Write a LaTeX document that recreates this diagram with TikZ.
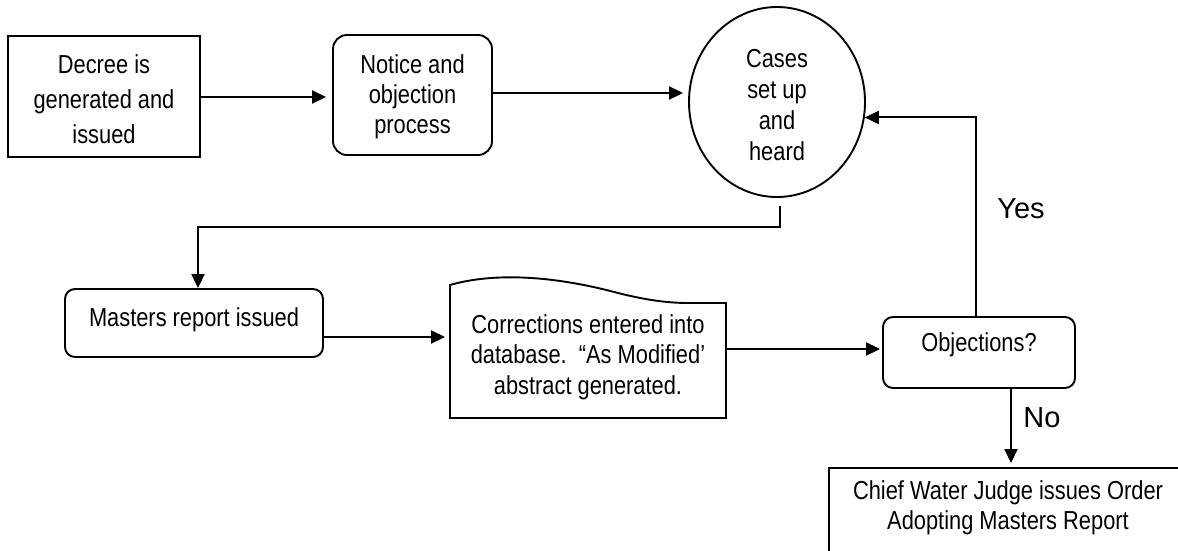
\documentclass[tikz,border=0pt]{standalone}
\usepackage{fontspec}
\setmainfont{Liberation Sans}[FakeStretch=0.84]
\newfontfamily\widefont{Liberation Sans}
\usetikzlibrary{shapes.geometric,arrows.meta,calc}
\begin{document}
\begin{tikzpicture}[x=1pt,y=-1pt,
  txt/.style={font=\fontsize{26}{31}\selectfont, align=center, inner sep=0pt},
  boxsq/.style={txt, draw, line width=1.9pt, rectangle},
  boxrd/.style={txt, draw, line width=1.9pt, rectangle, rounded corners=14pt},
  arr/.style={line width=2pt, -{Triangle[length=14pt,width=13pt]}},
  lbl/.style={font=\widefont\fontsize{29}{32}\selectfont, inner sep=0pt}]
\clip (0,0) rectangle (1178,550);
\fill[white] (0,0) rectangle (1178,550);

\node[boxsq, minimum width=192pt, minimum height=121pt] (decree) at (104,96.5) {};
\node[txt, font=\fontsize{26}{35}\selectfont] (decreetext) at (104,99)
  {Decree is\\generated and\\issued};
\node[boxrd, minimum width=159pt, minimum height=120pt] (notice) at (412.5,95) {};
\node[txt, font=\fontsize{26}{30}\selectfont] (noticetext) at (412.5,97)
  {Notice and\\objection\\process};
\node[draw, line width=1.9pt, ellipse, minimum width=176pt, minimum height=190pt,
  inner sep=0pt] (cases) at (777,102) {};
\node[txt] (casestext) at (777,105) {Cases\\set up\\and\\heard};
\node[boxrd, rounded corners=10pt, minimum width=258pt, minimum height=68pt] (masters) at (194,323) {};
\node[txt] (masterstext) at (194,320) {Masters report issued};
\node[txt, font=\fontsize{26}{30.5}\selectfont] (corr) at (588,357)
  {Corrections entered into\\database.\ \ “As Modified’\\abstract generated.};
\coordinate (docTL) at (450,285);
\coordinate (docTR) at (726,303);
\coordinate (docBR) at (726,418);
\coordinate (docBL) at (450,418);
\draw[line width=1.9pt] (docTL)
  .. controls (495,272) and (555,276) .. (618,293)
  .. controls (650,301) and (670,303) .. (690,303)
  -- (docTR) -- (docBR) -- (docBL) -- cycle;
\node[boxrd, rounded corners=10pt, minimum width=192pt, minimum height=71pt] (obj) at (979,352.5) {};
\node[txt] (objtext) at (979,345) {Objections?};
\node[draw, line width=1.9pt, rectangle, minimum width=400pt, minimum height=120pt,
  anchor=north west] (chief) at (828,467) {};
\node[txt, font=\fontsize{26}{30}\selectfont] (chieftext) at (1008,508)
  {Chief Water Judge issues Order\\Adopting Masters Report};

\node[lbl] (yes) at (1021,209) {Yes};
\node[lbl] (no) at (1042,418) {No};

\draw[arr, shorten >=6pt] ([yshift=-0.5pt]decree.east) -- ([yshift=-0.5pt]decree.east -| notice.west);
\draw[arr, shorten >=5pt] ([yshift=2pt]notice.east) -- ([yshift=2pt]notice.east -| cases.west);
\coordinate (turn) at (198,227);
\draw[arr] ([xshift=3pt,yshift=-8pt]cases.south) |- (turn) -- (turn |- masters.north);
\coordinate (docL) at (450,337);
\draw[arr, shorten >=5pt] (masters.east |- docL) -- (docL);
\coordinate (docR) at (726,349);
\draw[arr, shorten >=2pt] (docR) -- (docR -| obj.west);
\draw[arr] ([xshift=-3pt]obj.north) |- (cases.-10);
\draw[arr, shorten >=4pt] ([xshift=32pt]obj.south) -- ([xshift=32pt]obj.south |- chief.north);
\end{tikzpicture}
\end{document}
